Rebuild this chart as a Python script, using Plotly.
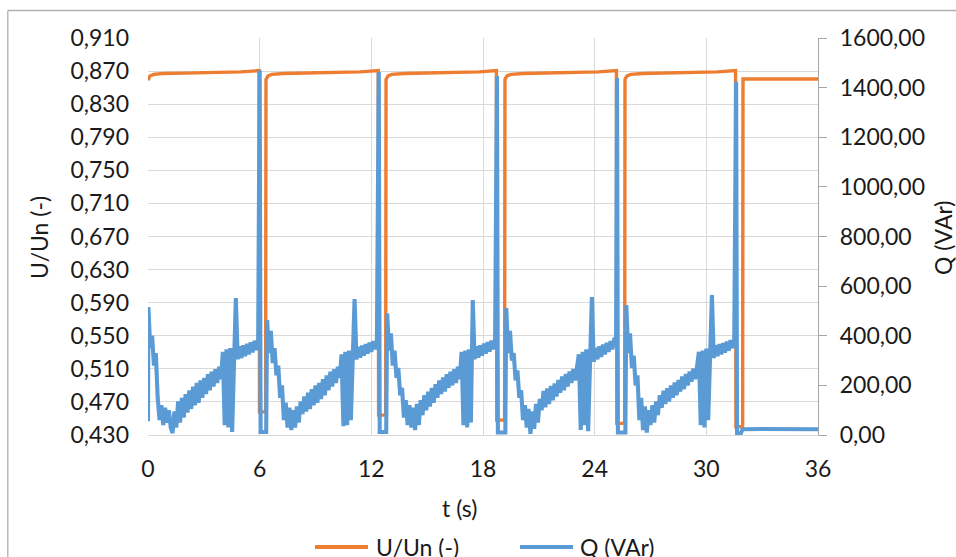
import plotly.graph_objects as go

# ---------------- data ----------------
# U/Un (-) : time (s) and value
u_t = [0.0, 0.1, 0.3, 0.8, 2.0, 3.5, 5.0, 5.97, 5.99, 6.32,
       6.34, 6.44, 6.64, 7.3, 8.5, 10.0, 11.4, 12.37, 12.39, 12.77,
       12.79, 12.89, 13.09, 13.8, 15.0, 16.5, 17.8, 18.72, 18.74, 19.16,
       19.18, 19.28, 19.48, 20.2, 21.4, 22.9, 24.2, 25.17, 25.19, 25.61,
       25.63, 25.73, 25.93, 26.6, 27.8, 29.3, 30.6, 31.57, 31.59, 31.95,
       31.97, 36.0]
u_v = [0.859, 0.864, 0.866, 0.867, 0.8675, 0.868, 0.869, 0.8705, 0.458, 0.458,
       0.860, 0.864, 0.866, 0.867, 0.8675, 0.868, 0.869, 0.8705, 0.454, 0.454,
       0.860, 0.864, 0.866, 0.867, 0.8675, 0.868, 0.869, 0.8705, 0.448, 0.448,
       0.860, 0.864, 0.866, 0.867, 0.8675, 0.868, 0.869, 0.8705, 0.444, 0.444,
       0.860, 0.864, 0.866, 0.867, 0.8675, 0.868, 0.869, 0.8705, 0.440, 0.440,
       0.8605, 0.8605]

# Q (VAr): sampled every DT seconds from each cycle start
DT = 0.1
q_first_t = [0.0]
q_first_v = [55]
cycle_t0 = [0.02, 6.4, 12.85, 19.25, 25.7]
q_cycle1 = [516, 350, 400, 280, 330, 150, 60, 120, 40, 110,
            50, 100, 30, 8, 95, 30, 135, 50, 150, 70,
            165, 90, 180, 105, 195, 120, 210, 130, 220, 150,
            230, 165, 245, 180, 255, 195, 265, 210, 275, 225,
            335, 40, 345, 30, 350, 12, 350, 552, 305, 358,
            310, 362, 318, 368, 325, 374, 333, 380, 342, 386]
q_cycle2 = [463, 330, 420, 290, 350, 240, 280, 150, 200, 60,
            130, 30, 110, 20, 100, 30, 115, 50, 135, 85,
            155, 95, 170, 105, 185, 120, 200, 130, 210, 145,
            225, 160, 240, 180, 255, 195, 265, 210, 275, 230,
            325, 35, 335, 40, 340, 60, 345, 548, 305, 355,
            312, 360, 320, 366, 328, 372, 335, 378, 345, 384]
q_cycle3 = [490, 340, 410, 280, 340, 230, 270, 160, 190, 70,
            140, 40, 120, 30, 110, 20, 125, 40, 140, 80,
            160, 100, 175, 115, 190, 130, 205, 150, 220, 165,
            232, 175, 245, 190, 255, 200, 265, 210, 275, 225,
            335, 40, 340, 30, 345, 50, 544, 305, 358, 312,
            362, 320, 368, 328, 374, 336, 380, 345, 386]
q_cycle4 = [512, 330, 420, 300, 330, 220, 260, 150, 180, 60,
            120, 30, 105, 5, 95, 25, 125, 50, 145, 100,
            178, 112, 188, 125, 198, 140, 208, 155, 222, 170,
            236, 180, 246, 195, 256, 210, 266, 220, 276, 325,
            20, 335, 40, 345, 15, 350, 556, 295, 352, 305,
            358, 315, 364, 325, 372, 335, 378, 345, 386, 392]
q_cycle5 = [524, 330, 410, 270, 320, 200, 240, 60, 150, 20,
            115, 10, 100, 40, 120, 50, 135, 80, 160, 110,
            178, 125, 188, 135, 200, 150, 212, 160, 222, 175,
            236, 185, 246, 200, 256, 215, 268, 225, 276, 335,
            40, 340, 30, 348, 60, 352, 564, 310, 362, 318,
            366, 325, 370, 332, 376, 340, 382, 350, 386]
q_cycles = [q_cycle1, q_cycle2, q_cycle3, q_cycle4, q_cycle5]

# voltage-dip events after each cycle (explicit times / values)
drop_t = [[6.0, 6.05, 6.35],
          [12.4, 12.45, 12.8],
          [18.75, 18.8, 19.2],
          [25.2, 25.25, 25.65],
          [31.6, 31.65, 31.85, 31.95, 33.0, 34.5, 36.0]]
drop_q = [[1470, 12, 12],
          [1463, 12, 12],
          [1447, 10, 10],
          [1439, 10, 10],
          [1424, 6, 6, 23, 24, 22, 23]]

x_ticks = [0, 6, 12, 18, 24, 30, 36]
y1_ticks = [0.43, 0.47, 0.51, 0.55, 0.59, 0.63, 0.67, 0.71, 0.75, 0.79, 0.83, 0.87, 0.91]
y2_ticks = [0, 200, 400, 600, 800, 1000, 1200, 1400, 1600]
series_names = ["U/Un (-)", "Q (VAr)"]

# ---------------- assemble Q series ----------------
q_t = list(q_first_t)
q_v = list(q_first_v)
for t0, vals, dt_list, dq_list in zip(cycle_t0, q_cycles, drop_t, drop_q):
    q_t += [round(t0 + i * DT, 3) for i in range(len(vals))]
    q_v += vals
    q_t += dt_list
    q_v += dq_list

# ---------------- figure ----------------
W, H = 956, 557
# plot area in page pixels (page body margin is removed below)
PL, PR, PT, PB = 148, 818, 38, 435


def px_x(p):   # page px -> paper x
    return (p - PL) / (PR - PL)


def px_y(p):   # page px -> paper y
    return (PB - p) / (PB - PT)


FONT = "Lato, Carlito, Calibri, sans-serif"
FS = 23
ORANGE = "#ED7D31"
BLUE = "#5B9BD5"
GRID = "#d9d9d9"
BORDER = "#b0b0b0"

fig = go.Figure()
fig.add_trace(go.Scatter(x=u_t, y=u_v, mode="lines", name=series_names[0],
                         line=dict(color=ORANGE, width=3.4), yaxis="y",
                         showlegend=False))
fig.add_trace(go.Scatter(x=q_t, y=q_v, mode="lines", name=series_names[1],
                         line=dict(color=BLUE, width=4.1), yaxis="y2",
                         showlegend=False))

# legend drawn as line samples + labels (Excel-like long samples)
legend_shapes = []
legend_annots = []
for name, col, x0, x1, xt in [(series_names[0], ORANGE, 315, 368, 374),
                              (series_names[1], BLUE, 520, 573, 578)]:
    legend_shapes.append(dict(type="line", xref="paper", yref="paper",
                              x0=px_x(x0), x1=px_x(x1), y0=px_y(547), y1=px_y(547),
                              line=dict(color=col, width=3.8)))
    legend_annots.append(dict(text=name, xref="paper", yref="paper",
                              x=px_x(xt), y=px_y(546.5), xanchor="left",
                              yanchor="middle", showarrow=False,
                              font=dict(family=FONT, size=FS)))

# chart-area border: only left and top edges fall inside the picture
border = [dict(type="line", xref="paper", yref="paper",
               x0=px_x(7.8), x1=px_x(7.8), y0=px_y(10.5), y1=px_y(600),
               line=dict(color=BORDER, width=1.3), layer="below"),
          dict(type="line", xref="paper", yref="paper",
               x0=px_x(7.8), x1=px_x(1000), y0=px_y(10.5), y1=px_y(10.5),
               line=dict(color=BORDER, width=1.3), layer="below")]

fig.update_layout(
    width=W, height=H,
    margin=dict(l=PL, r=W - PR, t=PT, b=H - PB, pad=0, autoexpand=False),
    paper_bgcolor="white", plot_bgcolor="white",
    separators=", ",
    font=dict(family=FONT, size=FS, color="#1a1a1a"),
    xaxis=dict(range=[0, 36], tickvals=x_ticks, showgrid=True, gridcolor=GRID,
               gridwidth=1.3, zeroline=False, showline=True, linecolor=GRID,
               linewidth=1.3, ticks="", ticklabelstandoff=13,
               tickfont=dict(family=FONT, size=FS)),
    yaxis=dict(range=[0.43, 0.91], tickvals=y1_ticks, tickformat=".3f",
               showgrid=True, gridcolor=GRID, gridwidth=1.3, zeroline=False,
               showline=False, ticks="", ticklabelstandoff=18,
               tickfont=dict(family=FONT, size=FS)),
    yaxis2=dict(range=[0, 1600], tickvals=y2_ticks, tickformat=".2f",
                overlaying="y", side="right", showgrid=False, zeroline=False,
                showline=True, linecolor="#a6a6a6", linewidth=1.3,
                ticks="outside", ticklen=8, tickcolor="#a6a6a6", tickwidth=1.3,
                ticklabelstandoff=8, tickfont=dict(family=FONT, size=FS)),
    showlegend=False,
    annotations=[
        dict(text="U/Un (-)", xref="paper", yref="paper", x=px_x(39), y=px_y(238),
             xanchor="center", yanchor="middle", textangle=-90, showarrow=False,
             font=dict(family=FONT, size=FS)),
        dict(text="Q (VAr)", xref="paper", yref="paper", x=px_x(943), y=px_y(238),
             xanchor="center", yanchor="middle", textangle=-90, showarrow=False,
             font=dict(family=FONT, size=FS)),
        dict(text="t (s)", xref="paper", yref="paper", x=px_x(459), y=px_y(508),
             xanchor="center", yanchor="middle", showarrow=False,
             font=dict(family=FONT, size=FS)),
    ] + legend_annots,
    shapes=border + legend_shapes,
)

fig.write_html("out.html", config={"displayModeBar": False},
               post_script="document.body.style.margin='0';"
                           "document.body.style.overflow='hidden';")
